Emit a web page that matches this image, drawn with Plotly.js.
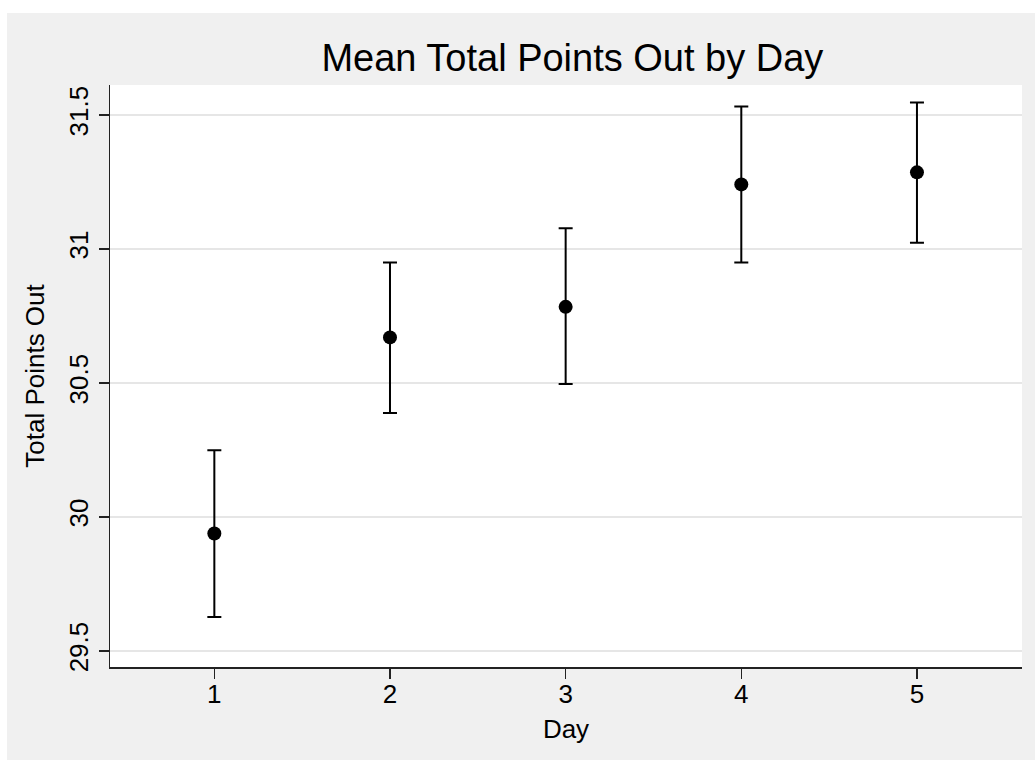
<!DOCTYPE html>
<html>
<head>
<meta charset="utf-8">
<script src="https://cdn.plot.ly/plotly-3.0.1.min.js"></script>
<style>
  html, body { margin: 0; padding: 0; background: #ffffff; width: 1035px; height: 760px; overflow: hidden; }
  #chart { position: absolute; left: 7px; top: 13px; width: 1028px; height: 747px; }
</style>
</head>
<body>
<div id="chart"></div>
<script>
const days = [1, 2, 3, 4, 5];
const meanPoints = [29.938, 30.670, 30.784, 31.241, 31.286];
const upperCI = [30.249, 30.950, 31.077, 31.532, 31.547];
const lowerCI = [29.627, 30.388, 30.496, 30.950, 31.023];
const yTicks = [29.5, 30, 30.5, 31, 31.5];
const yTickText = ['29.5', '30', '30.5', '31', '31.5'];

const errPlus = upperCI.map((u, i) => u - meanPoints[i]);
const errMinus = lowerCI.map((l, i) => meanPoints[i] - l);

const font = 'Liberation Sans, Arial, Helvetica, sans-serif';

const trace = {
  x: days,
  y: meanPoints,
  type: 'scatter',
  mode: 'markers',
  marker: { color: '#000000', size: 14 },
  error_y: {
    type: 'data',
    symmetric: false,
    array: errPlus,
    arrayminus: errMinus,
    color: '#000000',
    thickness: 2,
    width: 7
  },
  showlegend: false,
  hoverinfo: 'x+y'
};

const layout = {
  width: 1028,
  height: 747,
  paper_bgcolor: '#f0f0f0',
  plot_bgcolor: '#ffffff',
  margin: { l: 103, r: 13, t: 72, b: 93, pad: 0 },
  font: { family: font, color: '#000000', size: 26 },
  title: {
    text: 'Mean Total Points Out by Day',
    font: { family: font, size: 38, color: '#000000' },
    x: 0.507, xref: 'paper', xanchor: 'center',
    y: 0.94, yref: 'container', yanchor: 'middle'
  },
  xaxis: {
    range: [0.406, 5.598],
    tickvals: days,
    ticktext: days.map(String),
    ticks: 'outside', ticklen: 10, tickwidth: 1.5, tickcolor: '#222222',
    ticklabelstandoff: -7,
    showline: true, linecolor: '#222222', linewidth: 1.5,
    showgrid: false, zeroline: false,
    tickfont: { family: font, size: 26, color: '#000000' },
    title: { text: 'Day', font: { family: font, size: 26, color: '#000000' }, standoff: 12 },
    automargin: false
  },
  yaxis: {
    range: [29.440, 31.612],
    tickvals: yTicks,
    ticktext: yTickText,
    tickangle: -90,
    ticks: 'outside', ticklen: 10, tickwidth: 1.5, tickcolor: '#222222',
    showline: true, linecolor: '#222222', linewidth: 1.5,
    showgrid: true, gridcolor: '#e6e6e6', gridwidth: 1.5,
    zeroline: false,
    tickfont: { family: font, size: 26, color: '#000000' },
    title: { text: 'Total Points Out', font: { family: font, size: 26, color: '#000000' }, standoff: 12 },
    automargin: false
  }
};

Plotly.newPlot('chart', [trace], layout, { displayModeBar: false, staticPlot: true });
</script>
</body>
</html>
